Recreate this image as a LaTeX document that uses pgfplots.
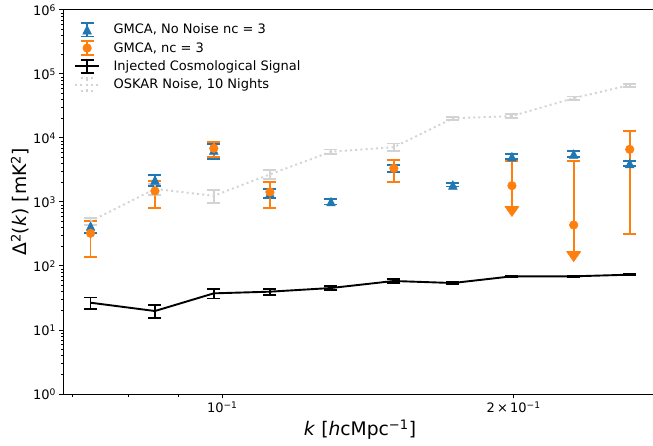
\documentclass[border=0pt]{standalone}
\usepackage{fontspec}
\setmainfont{DejaVu Sans}
\usepackage{pgfplots}
\pgfplotsset{compat=1.18}
\usepackage{pgfplotstable}

\definecolor{C0}{HTML}{1F77B4}
\definecolor{C1}{HTML}{FF7F0E}
\definecolor{LG}{HTML}{D3D3D3}

\pgfdeclareplotmark{mtri}{%
 \pgfpathmoveto{\pgfqpoint{0pt}{\pgfplotmarksize}}%
 \pgfpathlineto{\pgfqpoint{-\pgfplotmarksize}{-\pgfplotmarksize}}%
 \pgfpathlineto{\pgfqpoint{\pgfplotmarksize}{-\pgfplotmarksize}}%
 \pgfpathclose\pgfusepathqfillstroke}
\pgfdeclareplotmark{cdown}{%
 \pgfpathmoveto{\pgfqpoint{-\pgfplotmarksize}{0pt}}%
 \pgfpathlineto{\pgfqpoint{\pgfplotmarksize}{0pt}}%
 \pgfpathlineto{\pgfqpoint{0pt}{-1.43\pgfplotmarksize}}%
 \pgfpathclose\pgfusepathqfillstroke}

\pgfplotstableread{
x y ep em
0.0731 420 90 95
0.0852 2207 465 430
0.0980 6500 1480 1800
0.1120 1380 234 210
0.1295 1011 103 96
0.1504 3350 480 440
0.1731 1845 110 100
0.1992 5100 450 450
0.2307 5620 550 520
0.2636 3990 400 360
}\gmcanonoise

\pgfplotstableread{
x y ep em
0.0731 325 185 185
0.0852 1486 642 681
0.0980 6900 1650 1800
0.1120 1432 646 627
0.1504 3360 1220 1310
0.1992 1800 2580 950
0.2307 437 3893 270
0.2636 6650 6220 6330
}\gmca

\pgfplotstableread{
x y
0.1992 850
0.2307 167
}\limits

\pgfplotstableread{
x y e
0.0731 26.7 5.5
0.0852 19.8 4.6
0.0980 37.4 6.3
0.1120 39.7 4
0.1295 45.3 3.5
0.1504 58.3 3.5
0.1731 54.2 2.5
0.1992 69 2
0.2307 69 1.5
0.2636 73.2 1.5
}\signal

\pgfplotstableread{
x y e
0.0731 500 60
0.0852 1600 330
0.0980 1250 280
0.1120 2700 420
0.1295 6100 500
0.1504 7200 1000
0.1731 20300 1200
0.1992 22000 1500
0.2307 42000 2500
0.2636 67000 3500
}\oskar

\begin{document}
\begin{tikzpicture}
\begin{axis}[
 at={(0,0)}, anchor=south west,
 scale only axis, width=592bp, height=384bp,
 xmode=log, ymode=log,
 xmin=0.06862, xmax=0.2806, ymin=1, ymax=1e6,
 axis line style={line width=1bp},
 tick align=outside, tick pos=left,
 major tick length=4.5bp, minor tick length=2.6bp,
 every tick/.style={black, line width=1bp},
 every minor tick/.style={black, line width=0.8bp},
 xtick={0.1,0.2},
 xticklabels={10\textsuperscript{−1}, 2\,×\,10\textsuperscript{−1}},
 minor xtick={0.07,0.08,0.09},
 ytick={1,10,100,1000,10000,100000,1000000},
 yticklabels={10\textsuperscript{0},10\textsuperscript{1},10\textsuperscript{2},10\textsuperscript{3},10\textsuperscript{4},10\textsuperscript{5},10\textsuperscript{6}},
 minor ytick={2,3,4,5,6,7,8,9,20,30,40,50,60,70,80,90,200,300,400,500,600,700,800,900,2000,3000,4000,5000,6000,7000,8000,9000,20000,30000,40000,50000,60000,70000,80000,90000,200000,300000,400000,500000,600000,700000,800000,900000},
 ticklabel style={font=\fontsize{13bp}{15bp}\selectfont},
 xlabel={\textit{k} [\textit{h}cMpc\textsuperscript{−1}]},
 ylabel={Δ\textsuperscript{2}(\textit{k}) [mK\textsuperscript{2}]},
 label style={font=\fontsize{18.7bp}{22bp}\selectfont},
 xlabel style={at={(axis description cs:0.5,-0.09375)}, anchor=center},
 ylabel style={at={(axis description cs:-0.0743,0.5)}, anchor=center},
 legend style={at={(axis description cs:0.0169,0.969)}, anchor=north west, draw=none, fill=none, inner sep=0pt, column sep=13.5bp, row sep=3bp,
   nodes={inner sep=0pt, text height=10.5bp, text depth=2.5bp, font=\fontsize{13bp}{15bp}\selectfont}},
 legend cell align=left,
]
\addplot[C0, line width=1.9bp, only marks, mark=mtri, mark size=4.3bp,
  mark options={solid, fill=C0, draw=C0, line width=0.5bp},
  error bars/.cd, y dir=both, y explicit,
  error bar style={line width=1.9bp, C0},
  error mark options={rotate=90, line width=1.9bp, C0, mark size=6.5bp},
  /pgfplots/legend image code/.code={
    \draw[C0, line width=1.9bp] (12bp,-6.7bp)--(12bp,6.7bp) (5.5bp,-6.7bp)--(18.5bp,-6.7bp) (5.5bp,6.7bp)--(18.5bp,6.7bp);
    \draw[C0, fill=C0, line width=0.5bp] plot[mark=mtri, mark size=4.3bp] coordinates {(12bp,0bp)};
  }]
  table[x=x, y=y, y error plus=ep, y error minus=em] {\gmcanonoise};
\addlegendentry{GMCA, No Noise nc = 3}

\addplot[C1, line width=1.9bp, only marks, mark=*, mark size=4.3bp,
  mark options={solid, fill=C1, draw=C1, line width=0.5bp},
  error bars/.cd, y dir=both, y explicit,
  error bar style={line width=1.9bp, C1},
  error mark options={rotate=90, line width=1.9bp, C1, mark size=6.5bp},
  /pgfplots/legend image code/.code={
    \draw[C1, line width=1.9bp] (12bp,-6.7bp)--(12bp,6.7bp) (5.5bp,-6.7bp)--(18.5bp,-6.7bp) (5.5bp,6.7bp)--(18.5bp,6.7bp);
    \draw[C1, fill=C1, line width=0.5bp] plot[mark=*, mark size=4.3bp] coordinates {(12bp,0bp)};
  }]
  table[x=x, y=y, y error plus=ep, y error minus=em] {\gmca};
\addlegendentry{GMCA, nc = 3}

\addplot[C1, only marks, mark=cdown, mark size=7bp, mark options={fill=C1, draw=C1, line width=0.5bp}, forget plot]
  table[x=x, y=y] {\limits};

\addplot[black, line width=1.9bp, mark=none,
  error bars/.cd, y dir=both, y explicit,
  error bar style={line width=1.9bp, black, solid},
  error mark options={rotate=90, line width=1.9bp, black, mark size=6.5bp},
  /pgfplots/legend image code/.code={
    \draw[black, line width=1.9bp] (0bp,0bp)--(24bp,0bp) (12bp,-6.7bp)--(12bp,6.7bp) (5.5bp,-6.7bp)--(18.5bp,-6.7bp) (5.5bp,6.7bp)--(18.5bp,6.7bp);
  }]
  table[x=x, y=y, y error=e] {\signal};
\addlegendentry{Injected Cosmological Signal}

\addplot[LG, line width=1.9bp, mark=none, dash pattern=on 2bp off 3.2bp,
  error bars/.cd, y dir=both, y explicit,
  error bar style={line width=1.9bp, LG, solid},
  error mark options={rotate=90, line width=1.9bp, LG, solid, mark size=6.5bp},
  /pgfplots/legend image code/.code={
    \draw[LG, line width=1.9bp, dash pattern=on 2bp off 3.2bp] (0bp,0bp)--(24bp,0bp);
    \draw[LG, line width=1.9bp] (12bp,-6.7bp)--(12bp,6.7bp) (5.5bp,-6.7bp)--(18.5bp,-6.7bp) (5.5bp,6.7bp)--(18.5bp,6.7bp);
  }]
  table[x=x, y=y, y error=e] {\oskar};
\addlegendentry{OSKAR Noise, 10 Nights}
\end{axis}
\pgfresetboundingbox
\useasboundingbox (-64bp,-52bp) rectangle (589bp,394bp);
\end{tikzpicture}
\end{document}
